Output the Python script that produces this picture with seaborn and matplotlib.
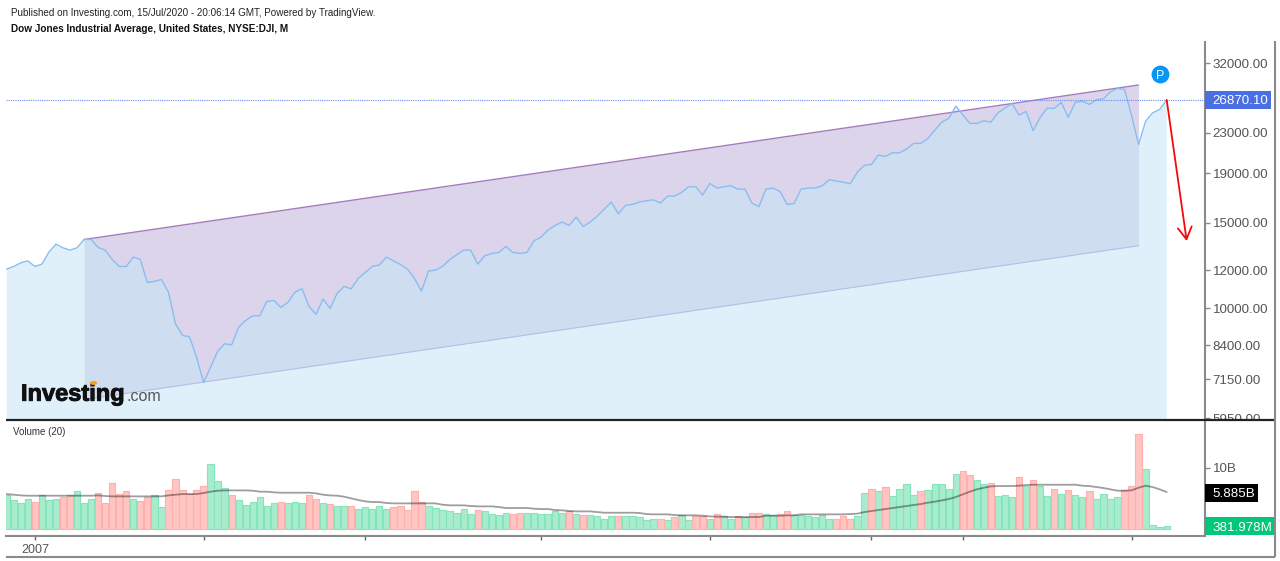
from matplotlib import pyplot as plt
from matplotlib.lines import Line2D
from matplotlib.patches import Circle, Rectangle
from matplotlib.transforms import Bbox, IdentityTransform
import matplotlib.patheffects as pe
import seaborn as sns
import pandas as pd

W, H = 1280, 561

# monthly close
close = [
    12051, 12205, 12419, 12537, 12205, 12340, 13062, 13567, 13333, 13187,
    13333, 13871, 13871, 13354, 13187, 12616, 12205, 12205, 12757, 12616,
    11313, 11367, 11476, 10807, 9300, 8800, 8745, 7942, 7043, 7574,
    8158, 8460, 8420, 9155, 9448, 9660, 9660, 10339, 10388, 10050,
    10290, 10807, 10979, 10097, 9722, 10454, 10002, 10739, 11101, 10979,
    11530, 11863, 12205, 12282, 12757, 12537, 12321, 12051, 11530, 10858,
    11938, 11995, 12205, 12597, 12899, 13187, 13187, 12340, 12838, 12980,
    13042, 13418, 13042, 12980, 13042, 13783, 14025, 14498, 14822, 15058,
    14822, 15419, 14752, 15058, 15493, 16015, 16556, 15665, 16296, 16374,
    16556, 16661, 16740, 16478, 17033, 17033, 17332, 17804, 17804, 17114,
    18087, 17692, 17804, 17888, 17608, 17608, 16478, 16194, 17608, 17692,
    17415, 16374, 16452, 17608, 17692, 17692, 17888, 18404, 18289, 18202,
    18059, 19084, 19698, 19791, 20686, 20556, 20916, 20916, 21283, 21862,
    21862, 22351, 23251, 24188, 24612, 26093, 25044, 24036, 24036, 24342,
    24188, 25282, 25847, 26425, 25004, 25443, 23215, 24729, 25847, 25807,
    26551, 24729, 26551, 26719, 26300, 26889, 27017, 27928, 28373, 28239,
    24965, 21759, 24303, 25282, 25685, 26870,
]

# volume in billions
volume = [
    5.57, 4.70, 4.15, 4.92, 4.37, 5.46, 4.70, 4.92, 5.14, 5.46,
    6.12, 4.15, 4.92, 5.90, 4.15, 7.43, 5.68, 6.12, 4.92, 4.54,
    5.25, 5.46, 3.55, 6.28, 8.20, 6.28, 5.68, 6.28, 7.05, 10.55,
    7.81, 6.61, 5.46, 4.70, 3.93, 4.37, 5.14, 3.77, 4.15, 4.37,
    4.15, 4.37, 4.15, 5.46, 4.92, 4.15, 3.99, 3.77, 3.77, 3.77,
    3.17, 3.55, 3.17, 3.77, 3.17, 3.55, 3.77, 3.01, 6.12, 4.37,
    3.72, 3.39, 3.06, 2.90, 2.62, 3.22, 2.40, 3.06, 2.84, 2.40,
    2.19, 2.62, 2.40, 2.62, 2.62, 2.62, 2.40, 2.40, 2.84, 2.62,
    2.84, 2.40, 2.19, 2.19, 2.02, 1.64, 2.02, 2.02, 2.02, 2.02,
    1.86, 1.42, 1.64, 1.64, 1.42, 1.86, 2.19, 1.42, 2.02, 2.02,
    1.64, 2.40, 2.02, 1.64, 2.02, 1.86, 2.62, 2.62, 2.40, 2.19,
    2.40, 2.84, 2.19, 2.19, 2.02, 1.86, 2.19, 1.64, 1.64, 2.02,
    1.64, 2.02, 5.90, 6.45, 6.12, 6.89, 5.36, 6.45, 7.27, 5.46,
    6.12, 6.28, 7.27, 7.27, 6.45, 8.96, 9.40, 8.80, 7.98, 7.27,
    7.43, 5.36, 5.46, 5.14, 8.42, 7.05, 7.98, 7.05, 5.36, 6.45,
    5.68, 6.28, 5.46, 5.14, 6.12, 4.92, 5.68, 4.92, 5.14, 6.28,
    7.05, 15.52, 9.73, 0.55, 0.33, 0.38,
]

# 20 month average as drawn on the chart
volume_ma = [
    5.68, 5.57, 5.46, 5.41, 5.41, 5.41, 5.41, 5.41, 5.41, 5.41,
    5.41, 5.41, 5.41, 5.46, 5.36, 5.30, 5.30, 5.30, 5.30, 5.30,
    5.30, 5.30, 5.30, 5.46, 5.57, 5.68, 5.68, 5.68, 5.85, 6.07,
    6.23, 6.28, 6.28, 6.28, 6.28, 6.23, 6.07, 6.07, 5.96, 5.90,
    5.90, 5.90, 5.90, 5.90, 5.79, 5.57, 5.46, 5.41, 5.25, 4.97,
    4.70, 4.48, 4.37, 4.37, 4.21, 4.15, 4.15, 4.15, 4.15, 4.15,
    4.15, 4.15, 3.93, 3.83, 3.83, 3.83, 3.72, 3.66, 3.66, 3.66,
    3.55, 3.39, 3.39, 3.39, 3.39, 3.28, 3.22, 3.22, 3.06, 3.01,
    2.90, 2.84, 2.84, 2.84, 2.73, 2.62, 2.62, 2.62, 2.62, 2.62,
    2.57, 2.40, 2.35, 2.35, 2.35, 2.24, 2.19, 2.19, 2.19, 2.13,
    2.02, 1.97, 1.97, 1.91, 1.91, 1.91, 1.91, 1.91, 2.13, 2.13,
    2.13, 2.19, 2.19, 2.35, 2.35, 2.35, 2.35, 2.35, 2.35, 2.35,
    2.40, 2.46, 2.73, 2.90, 3.06, 3.22, 3.39, 3.55, 3.72, 3.88,
    4.04, 4.26, 4.43, 4.64, 4.86, 5.19, 5.63, 6.07, 6.45, 6.72,
    6.94, 6.99, 6.99, 6.99, 7.05, 7.16, 7.21, 7.21, 7.21, 7.21,
    7.21, 7.21, 7.21, 7.05, 6.99, 6.83, 6.67, 6.45, 6.23, 6.23,
    6.28, 6.72, 7.05, 6.83, 6.45, 6.01,
]

# months that closed down
down_months = [
    4, 8, 9, 13, 14, 15, 16, 17, 19, 20, 23, 24, 25, 26, 27, 28, 32, 39, 43,
    44, 46, 49, 55, 56, 57, 58, 59, 67, 72, 73, 80, 82, 87, 93, 95, 98, 99,
    101, 104, 106, 107, 110, 111, 118, 119, 120, 123, 125, 130, 136, 137,
    140, 144, 146, 149, 151, 154, 159, 160, 161,
]

price_ticks = [32000, 23000, 19000, 15000, 12000, 10000, 8400, 7150, 5950]
time_ticks = [4, 28, 51, 76, 100, 123, 136, 160]
time_labels = ['2007', '', '', '', '', '', '', '']

# channel ends: month, upper, lower
channel_months = [11, 161]
channel_upper = [13866, 28840]
channel_lower = [6496, 13465]

# trend arrow on the right
arrow_from = (165, 26870)
arrow_to = (167.85, 13768)

last_price = 26870.10
last_vol_ma = 5.885
last_vol = 0.381978

df = pd.DataFrame({'month': range(len(close)), 'close': close, 'volume': volume, 'ma': volume_ma})
df['direction'] = ['down' if m in down_months else 'up' for m in df['month']]

sns.set_style('white')
plt.rcParams['font.family'] = ['Liberation Sans', 'DejaVu Sans']

fig = plt.figure(figsize=(W / 100, H / 100), dpi=100)


def axes_px(left, top, right, bottom):
    return fig.add_axes([left / W, 1 - bottom / H, (right - left) / W, (bottom - top) / H])


def fig_line(x0, y0, x1, y1, color='#8a8a8a', lw=1.5):
    fig.add_artist(Line2D([x0 / W, x1 / W], [1 - y0 / H, 1 - y1 / H], color=color, lw=lw,
                          transform=fig.transFigure, solid_capstyle='butt'))


def badge(x0, x1, yc, h, color, text):
    fig.add_artist(Rectangle((x0, yc - h / 2), x1 - x0, h, color=color, lw=0,
                             transform=IdentityTransform(), zorder=5))
    fig.text(1212.7 / W, yc / H, text, color='white', fontsize=9.6, va='center_baseline', ha='left', zorder=6)


ax = axes_px(6, 42, 1205, 420)
vol = axes_px(6, 421, 1205, 535.7)

# price panel
ax.set_yscale('log')
ax.fill_between(channel_months, channel_lower, channel_upper, color='#dbd4ea', lw=0, zorder=1)
ax.plot(channel_months, channel_lower, color='#a98fd0', lw=0.8, zorder=1.5)
ax.fill_between(df['month'], df['close'], 1000, color='#c6e5f8', alpha=0.54, lw=0, zorder=2)
ax.plot(channel_months, channel_upper, color='#a47cbd', lw=1, zorder=3)
sns.lineplot(data=df, x='month', y='close', color='#85bdf0', lw=0.95, errorbar=None, ax=ax, zorder=4)
ax.axhline(last_price, color='#6d8bf5', lw=0.8, ls=(0, (1, 1)), zorder=4)
ax.annotate('', xy=arrow_to, xytext=arrow_from, zorder=5,
            arrowprops=dict(arrowstyle='->,head_length=0.86,head_width=0.5', mutation_scale=10,
                            color='#f50a0a', lw=1.3, shrinkA=0, shrinkB=0))
ax.scatter([164.1], [30380], s=165, color='#0a96f5', lw=0, zorder=6)
ax.text(164.1, 30380, 'P', color='white', fontsize=9, ha='center', va='center_baseline', zorder=7)

ax.set_xlim(-0.1, 170.45)
ax.set_ylim(5895, 35357)
ax.set_xticks([])
ax.set_xlabel('')
ax.set_ylabel('')
ax.yaxis.tick_right()
ax.set_yticks(price_ticks)
ax.set_yticklabels([f'{p:.2f}' for p in price_ticks])
ax.minorticks_off()
ax.tick_params(axis='y', which='major', right=True, length=3.6, width=1, color='#8a8a8a',
               labelcolor='#555555', labelsize=9.6, pad=1.9)
for lab in ax.get_yticklabels():
    lab.set_clip_box(Bbox([[1205, H - 420], [1274, H]]))
    lab.set_clip_on(True)
for name, spine in ax.spines.items():
    spine.set_visible(name == 'right')
    spine.set_color('#8a8a8a')
    spine.set_linewidth(1.5)

# volume panel
sns.barplot(data=df, x='month', y='volume', hue='direction', hue_order=['up', 'down'],
            palette=['#a8ecce', '#ffc5c3'], native_scale=True, dodge=False, width=0.9, gap=0,
            saturation=1, errorbar=None, linewidth=0.8, legend=False, ax=vol, zorder=2)
for bar_group, edge in zip(vol.containers, ['#84e4bb', '#ffb0ad']):
    for bar in bar_group:
        bar.set_edgecolor(edge)
sns.lineplot(data=df, x='month', y='ma', color='black', alpha=0.38, lw=1.3, errorbar=None, ax=vol, zorder=3)

vol.set_xlim(-0.1, 170.45)
vol.set_ylim(-1.15, 17.66)
vol.set_xlabel('')
vol.set_ylabel('')
vol.set_xticks(time_ticks)
vol.set_xticklabels(time_labels)
vol.yaxis.tick_right()
vol.set_yticks([10])
vol.set_yticklabels(['10B'])
vol.tick_params(axis='y', right=True, length=3.6, width=1, color='#8a8a8a', labelcolor='#555555',
                labelsize=9.6, pad=1.9)
vol.tick_params(axis='x', bottom=True, length=3, width=1, color='#666666', labelcolor='#555555',
                labelsize=9, pad=3)
for name, spine in vol.spines.items():
    spine.set_visible(name in ('right', 'bottom'))
    spine.set_color('#8a8a8a')
    spine.set_linewidth(1.5)
fig.text(13 / W, 1 - 432 / H, 'Volume (20)', color='#333333', fontsize=7, va='center')

# frame and separators
fig_line(6, 420, 1274.7, 420, color='#222222', lw=1.6)
fig_line(1274.7, 41, 1274.7, 557)
fig_line(6, 556.7, 1274.7, 556.7)

# value badges on the axes
fig.canvas.draw()
y_price = ax.transData.transform((0, last_price))[1]
y_ma = vol.transData.transform((0, last_vol_ma))[1]
y_vol = vol.transData.transform((0, last_vol))[1]
badge(1205, 1271, y_price, 18, '#4a6fe3', f'{last_price:.2f}')
badge(1205, 1258, y_ma, 18, '#000000', f'{last_vol_ma:.3f}B')
badge(1205, 1274, y_vol, 18, '#00c77a', f'{last_vol * 1000:.3f}M')

# header text
fig.text(11 / W, 1 - 12.5 / H, 'Published on Investing.com, 15/Jul/2020 - 20:06:14 GMT, Powered by TradingView.',
         color='#222222', fontsize=7.1, va='center')
fig.text(11 / W, 1 - 28.5 / H, 'Dow Jones Industrial Average, United States, NYSE:DJI, M',
         color='#111111', fontsize=7.2, fontweight='bold', va='center')

# logo
logo = fig.text(21 / W, 1 - 400.7 / H, 'Investing', color='#111111', fontsize=17, fontweight='bold', va='baseline')
logo.set_path_effects([pe.withStroke(linewidth=0.7, foreground='#111111')])
fig.text(127 / W, 1 - 400.7 / H, '.com', color='#555555', fontsize=11.5, va='baseline')
fig.add_artist(Circle((93.5 / W, 1 - 383 / H), 0.0022, color='#f7a21b', transform=fig.transFigure, zorder=6))

fig.savefig('out.png', dpi=100)
